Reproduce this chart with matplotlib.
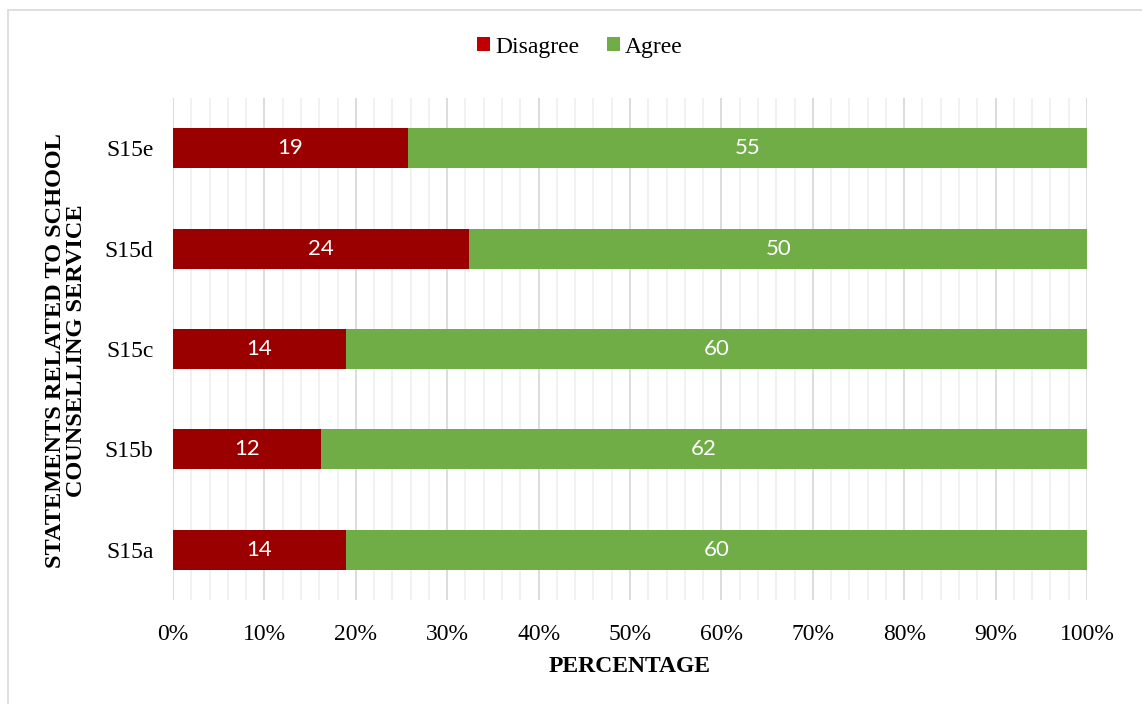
import matplotlib
matplotlib.use("Agg")
import matplotlib.pyplot as plt
from matplotlib.patches import Rectangle
from matplotlib.ticker import MultipleLocator, PercentFormatter
import numpy as np

statements = ["S15a", "S15b", "S15c", "S15d", "S15e"]
disagree = [14, 12, 14, 24, 19]
agree = [60, 62, 60, 50, 55]

RED = "#9a0000"
GREEN = "#70ad47"

plt.rcParams["font.family"] = ["Liberation Serif", "DejaVu Serif"]

fig = plt.figure(figsize=(11.42, 7.04), dpi=100)
ax = fig.add_axes([173 / 1142, 1 - 600 / 704, (1087 - 173) / 1142, (600 - 98) / 704])

d = np.array(disagree, dtype=float)
a = np.array(agree, dtype=float)
tot = d + a
d_pct = d / tot * 100
a_pct = a / tot * 100
y = np.arange(len(statements))

b1 = ax.barh(y, d_pct, height=0.4, color=RED, label="Disagree", zorder=3)
b2 = ax.barh(y, a_pct, left=d_pct, height=0.4, color=GREEN, label="Agree", zorder=3)

for bars, vals in ((b1, disagree), (b2, agree)):
    for rect, v in zip(bars, vals):
        ax.text(rect.get_x() + rect.get_width() / 2, rect.get_y() + rect.get_height() / 2,
                str(v), ha="center", va="center", color="white", fontsize=16,
                family=["Lato", "DejaVu Sans"], zorder=4)

ax.set_xlim(0, 100)
ax.set_ylim(-0.5, 4.5)
ax.set_yticks(y)
ax.set_yticklabels(statements, fontsize=17)
ax.xaxis.set_major_locator(MultipleLocator(10))
ax.xaxis.set_minor_locator(MultipleLocator(2))
ax.xaxis.set_major_formatter(PercentFormatter(decimals=0))
ax.tick_params(axis="x", labelsize=17, length=0, which="both", pad=17)
ax.tick_params(axis="y", length=0, pad=14)
ax.grid(axis="x", which="major", color="#d9d9d9", linewidth=1.3, zorder=0)
ax.grid(axis="x", which="minor", color="#f0f0f0", linewidth=1.3, zorder=0)
for s in ax.spines.values():
    s.set_visible(False)

ax.set_xlabel("PERCENTAGE", fontsize=17, fontweight="bold", labelpad=8)
fig.text(66 / 1142, 1 - 351 / 704, "STATEMENTS RELATED TO SCHOOL\nCOUNSELLING SERVICE",
         rotation=90, ha="center", va="center", fontsize=17.5, fontweight="bold",
         linespacing=1.05, multialignment="center")

leg = fig.legend(handles=[b1, b2], loc="center", bbox_to_anchor=(580 / 1142, 1 - 47 / 704),
                 ncol=2, frameon=False, fontsize=17, handlelength=0.55, handleheight=0.55,
                 handletextpad=0.2, columnspacing=1.2)
leg.legend_handles[0].set_facecolor("#c00000")

# outer frame of the chart area
fig.patches.append(Rectangle((8 / 1142, -0.05), 1.1, 1 - 10 / 704 + 0.05, transform=fig.transFigure,
                             fill=False, edgecolor="#d9d9d9", linewidth=1.2))

fig.savefig("out.png", dpi=100)
plt.close(fig)
